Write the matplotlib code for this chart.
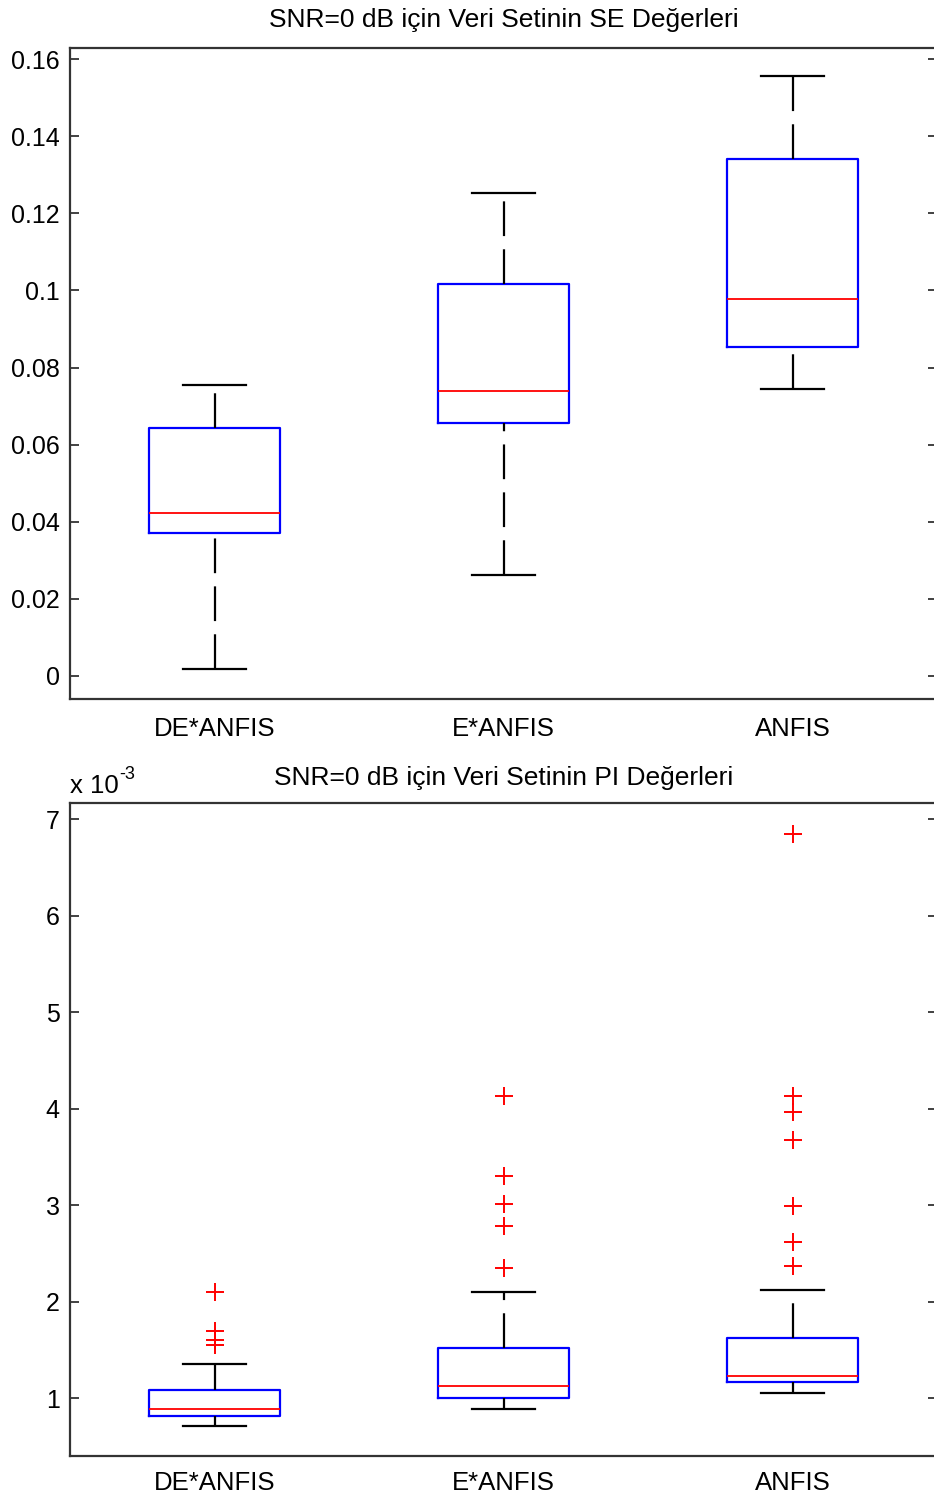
import matplotlib
matplotlib.use("Agg")
import matplotlib.pyplot as plt
from matplotlib.ticker import FormatStrFormatter

plt.rcParams['font.family'] = ['Liberation Sans', 'DejaVu Sans']
plt.rcParams['lines.scale_dashes'] = False

names = ['DE*ANFIS', 'E*ANFIS', 'ANFIS']

# SE values (top panel)
se_lo = [0.0018, 0.0262, 0.0744]
se_q1 = [0.0371, 0.0656, 0.0853]
se_med = [0.0423, 0.0739, 0.0978]
se_q3 = [0.0643, 0.1017, 0.1341]
se_hi = [0.0755, 0.1253, 0.1556]
se_fliers = [[], [], []]

# PI values (bottom panel), units of 1e-3
pi_lo = [0.710, 0.889, 1.055]
pi_q1 = [0.813, 0.997, 1.163]
pi_med = [0.886, 1.124, 1.225]
pi_q3 = [1.083, 1.515, 1.619]
pi_hi = [1.352, 2.098, 2.116]
pi_fliers = [[1.549, 1.601, 1.694, 2.098],
             [2.344, 2.782, 3.007, 3.297, 4.130],
             [2.365, 2.613, 2.987, 3.670, 3.961, 4.130, 6.845]]

W, H = 934, 1499
fig = plt.figure(figsize=(W / 100, H / 100), dpi=100)


def panel(rect, lo, q1, med, q3, hi, fl, ylim, yticks, fmt, title, tpad, xpad):
    ax = fig.add_axes(rect)
    stats = []
    for i in range(len(names)):
        stats.append(dict(label=names[i], whislo=lo[i], q1=q1[i], med=med[i],
                          q3=q3[i], whishi=hi[i], fliers=fl[i]))
    parts = ax.bxp(stats, widths=0.45, capwidths=0.22,
                   boxprops=dict(color='#0000ff', linewidth=1.6),
                   medianprops=dict(color='#ff0000', linewidth=1.3),
                   whiskerprops=dict(color='black', linewidth=1.6, linestyle=(0, (25, 9.5))),
                   capprops=dict(color='black', linewidth=1.6),
                   flierprops=dict(marker='+', markeredgecolor='#ff0000', markersize=13,
                                   markeredgewidth=1.4, linestyle='none'))
    # matlab draws the whisker upward from the low end
    for w in parts['whiskers'][0::2]:
        x, y = w.get_data()
        w.set_data(x[::-1], y[::-1])
    ax.set_xlim(0.5, 3.5)
    ax.set_ylim(*ylim)
    ax.set_yticks(yticks)
    ax.yaxis.set_major_formatter(FormatStrFormatter(fmt))
    ax.tick_params(axis='y', direction='in', length=6.5, width=1.3, colors='#333333',
                   labelcolor='black', labelsize=18, right=True, pad=7.5)
    ax.tick_params(axis='x', length=0, labelsize=18.5, pad=xpad, labelcolor='black')
    for s in ax.spines.values():
        s.set_color('#333333')
        s.set_linewidth(1.6)
    ax.set_title(title, fontsize=19, pad=tpad)
    return ax


ax1 = panel([70 / W, 1 - 699 / H, 867 / W, 651 / H],
            se_lo, se_q1, se_med, se_q3, se_hi, se_fliers,
            (-0.006, 0.1629), [0, 0.02, 0.04, 0.06, 0.08, 0.1, 0.12, 0.14, 0.16], '%g',
            'SNR=0 dB için Veri Setinin SE Değerleri', 15, 13)

ax2 = panel([70 / W, 1 - 1456 / H, 867 / W, 653 / H],
            pi_lo, pi_q1, pi_med, pi_q3, pi_hi, pi_fliers,
            (0.399, 7.166), [1, 2, 3, 4, 5, 6, 7], '%g',
            'SNR=0 dB için Veri Setinin PI Değerleri', 13, 11)

fig.text(70 / W, 1 - 793 / H, 'x 10', fontsize=18.5, ha='left', va='baseline')
fig.text(119 / W, 1 - 779 / H, '-3', fontsize=13, ha='left', va='baseline')

fig.savefig('out.png', dpi=100)
